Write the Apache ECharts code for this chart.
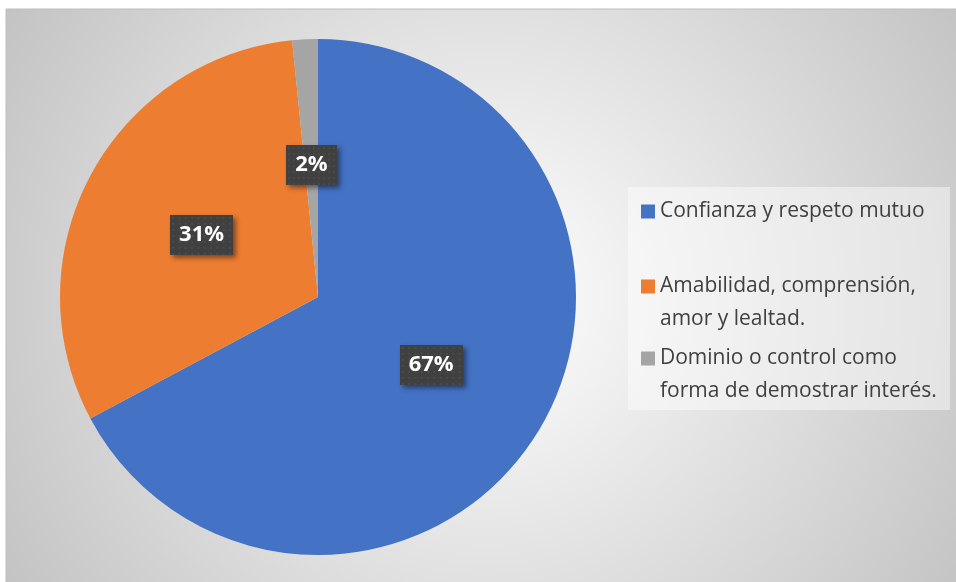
<!DOCTYPE html>
<html>
<head>
<meta charset="utf-8">
<script src="https://cdn.jsdelivr.net/npm/echarts@6/dist/echarts.min.js"></script>
<style>
  html, body { margin: 0; padding: 0; background: #fff; }
  #chart { width: 956px; height: 582px; }
</style>
</head>
<body>
<div id="chart"></div>
<script>
var categories = ['Confianza y respeto mutuo', 'Amabilidad, comprensión, amor y lealtad.', 'Dominio o control como forma de demostrar interés.'];
var legendLines = [['Confianza y respeto mutuo'], ['Amabilidad, comprensión,', 'amor y lealtad.'], ['Dominio o control como', 'forma de demostrar interés.']];
var values = [67.2, 31.2, 1.6];
var colors = ['#4472C4', '#ED7D31', '#A5A5A5'];
var legendTops = [195, 237, 309];

var chart = echarts.init(document.getElementById('chart'));

// dotted dark texture for the data labels
var tex = document.createElement('canvas');
tex.width = 60; tex.height = 40;
var ctx = tex.getContext('2d');
ctx.fillStyle = '#404040';
ctx.fillRect(0, 0, 60, 40);
ctx.fillStyle = '#4b4b4b';
for (var x = 2; x < 60; x += 6) {
    for (var y = 2; y < 40; y += 6) {
        ctx.fillRect(x, y, 2, 2);
    }
}

var pieData = categories.map(function (name, i) {
    return { name: name, value: values[i], itemStyle: { color: colors[i] } };
});

// blank first line keeps the icon level with the first text line
var legends = categories.map(function (name, i) {
    var lines = legendLines[i].length > 1 ? [''].concat(legendLines[i]) : legendLines[i];
    return {
        orient: 'vertical',
        left: 641,
        top: legendTops[i],
        padding: 0,
        itemWidth: 14,
        itemHeight: 14,
        itemGap: 0,
        icon: 'rect',
        data: [name],
        formatter: function () { return lines.join('\n'); },
        textStyle: {
            fontFamily: 'Open Sans',
            fontSize: 21,
            color: '#404040',
            lineHeight: 33
        },
        itemStyle: { borderWidth: 0 }
    };
});

var option = {
    animation: false,
    graphic: [
        {
            type: 'rect',
            z: -10,
            shape: { x: 6, y: 9, width: 960, height: 580 },
            style: {
                fill: new echarts.graphic.RadialGradient(0.5, 0.5, 0.98, [
                    { offset: 0, color: '#ffffff' },
                    { offset: 1, color: '#c2c2c2' }
                ]),
                stroke: '#bdbdbd',
                lineWidth: 1
            }
        },
        {
            type: 'rect',
            z: -5,
            shape: { x: 628, y: 187, width: 322, height: 223 },
            style: { fill: 'rgba(255,255,255,0.45)' }
        }
    ],
    legend: legends,
    series: [
        {
            type: 'pie',
            center: [318, 297],
            radius: 258,
            startAngle: 90,
            clockwise: true,
            data: pieData,
            label: {
                show: true,
                position: 'inside',
                formatter: function (p) { return Math.round(p.value) + '%'; },
                color: '#fff',
                fontFamily: 'Open Sans',
                fontWeight: 'bold',
                fontSize: 22,
                padding: [10, 9, 8, 9],
                backgroundColor: { image: tex },
                shadowColor: 'rgba(0,0,0,0.45)',
                shadowBlur: 5,
                shadowOffsetX: 3,
                shadowOffsetY: 3
            },
            labelLine: { show: false },
            itemStyle: { borderWidth: 0 },
            emphasis: { disabled: true }
        }
    ]
};

chart.setOption(option);
</script>
</body>
</html>
